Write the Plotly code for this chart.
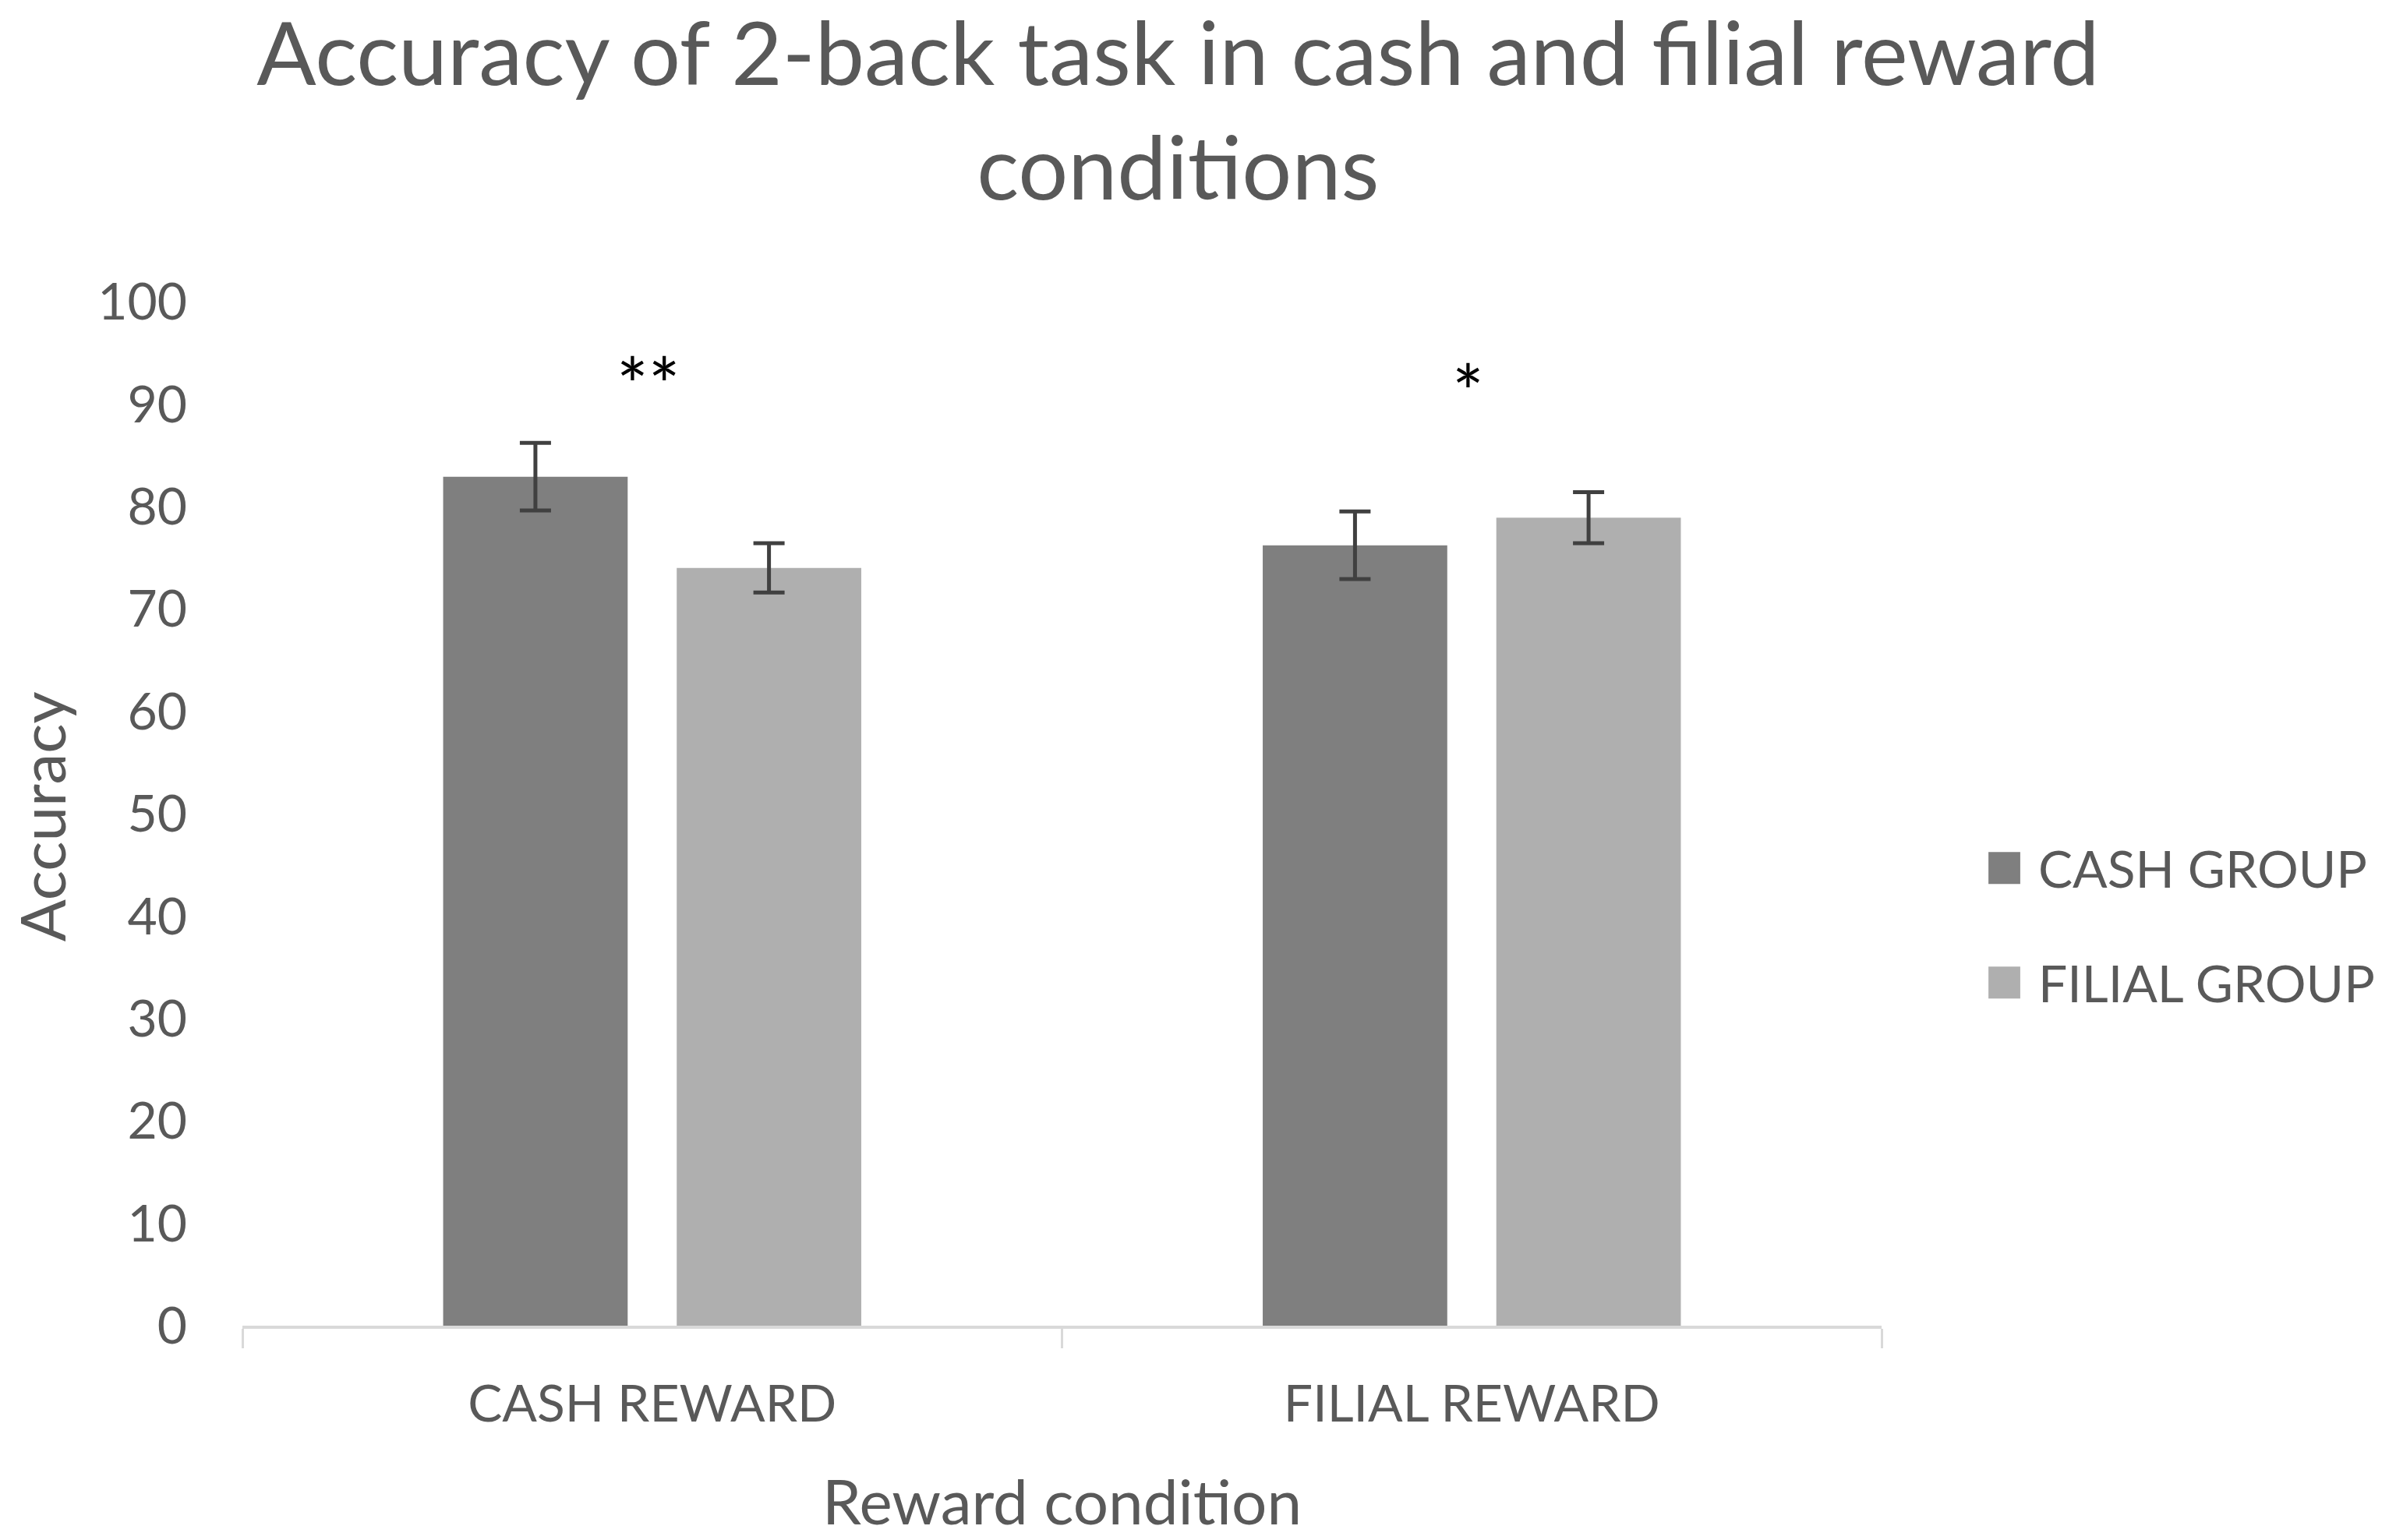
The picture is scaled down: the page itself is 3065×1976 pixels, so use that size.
import plotly.graph_objects as go

# data
conditions = ['CASH REWARD', 'FILIAL REWARD']
groups = ['CASH GROUP', 'FILIAL GROUP']
cash_group = [82.9, 76.2]
cash_group_err = [3.3, 3.3]
filial_group = [74.0, 78.9]
filial_group_err = [2.4, 2.5]
stars = ['**', '*']
star_y = [92.0, 91.3]

colors = ['#7f7f7f', '#afafaf']
txt = '#595959'
font = 'Lato'

fig = go.Figure()
for name, vals, errs, col in zip(groups, [cash_group, filial_group],
                                  [cash_group_err, filial_group_err], colors):
    fig.add_trace(go.Bar(
        x=conditions, y=vals, name=name, marker_color=col, marker_line_width=0,
        error_y=dict(type='data', array=errs, visible=True, color='#404040',
                     thickness=5, width=20),
        showlegend=False))

# significance stars above each condition
for c, s, yy in zip(conditions, stars, star_y):
    fig.add_annotation(x=c, y=yy, text=s, showarrow=False, xshift=-5,
                       font=dict(family=font, size=96, color='black'))

# legend drawn by hand so the swatches match the reference size
for i, (name, col) in enumerate(zip(groups, colors)):
    ly = 0.447 - i * 0.112
    fig.add_shape(type='rect', xref='paper', yref='paper',
                  x0=1.0652, x1=1.0846, y0=ly - 0.0156, y1=ly + 0.0156,
                  fillcolor=col, line_width=0)
    fig.add_annotation(xref='paper', yref='paper', x=1.0945, y=ly, text=name,
                       showarrow=False, xanchor='left', yanchor='middle',
                       font=dict(family=font, size=66, color=txt))

# y axis title, placed by hand
fig.add_annotation(xref='paper', yref='paper', x=-0.1225, y=0.497,
                   text='Accuracy', textangle=-90, showarrow=False,
                   xanchor='center', yanchor='middle',
                   font=dict(family=font, size=80, color=txt))

fig.update_layout(
    width=3065, height=1976,
    paper_bgcolor='white', plot_bgcolor='white',
    margin=dict(l=303, r=659, t=379, b=283),
    barmode='group', bargap=0.43, bargroupgap=0.21,
    font=dict(family=font, color=txt, size=66),
    title=dict(text='Accuracy of 2-back task in cash and filial reward<br>conditions',
               x=0.4905, xanchor='center', y=0.949, yanchor='top',
               font=dict(family=font, size=113, color=txt)),
)
fig.update_xaxes(
    showline=True, linecolor='#d9d9d9', linewidth=4,
    ticks='outside', tickson='boundaries', ticklen=25, tickwidth=3,
    tickcolor='#d9d9d9', ticklabelstandoff=40, automargin=False,
    tickfont=dict(family=font, size=66, color=txt),
    title=dict(text='Reward condition', standoff=64,
               font=dict(family=font, size=80, color=txt)),
    showgrid=False)
fig.update_yaxes(
    range=[0, 100], dtick=10, showgrid=False, zeroline=False, showline=False,
    ticklabelstandoff=70, automargin=False,
    tickfont=dict(family=font, size=66, color=txt))

fig.write_html('out.html')
